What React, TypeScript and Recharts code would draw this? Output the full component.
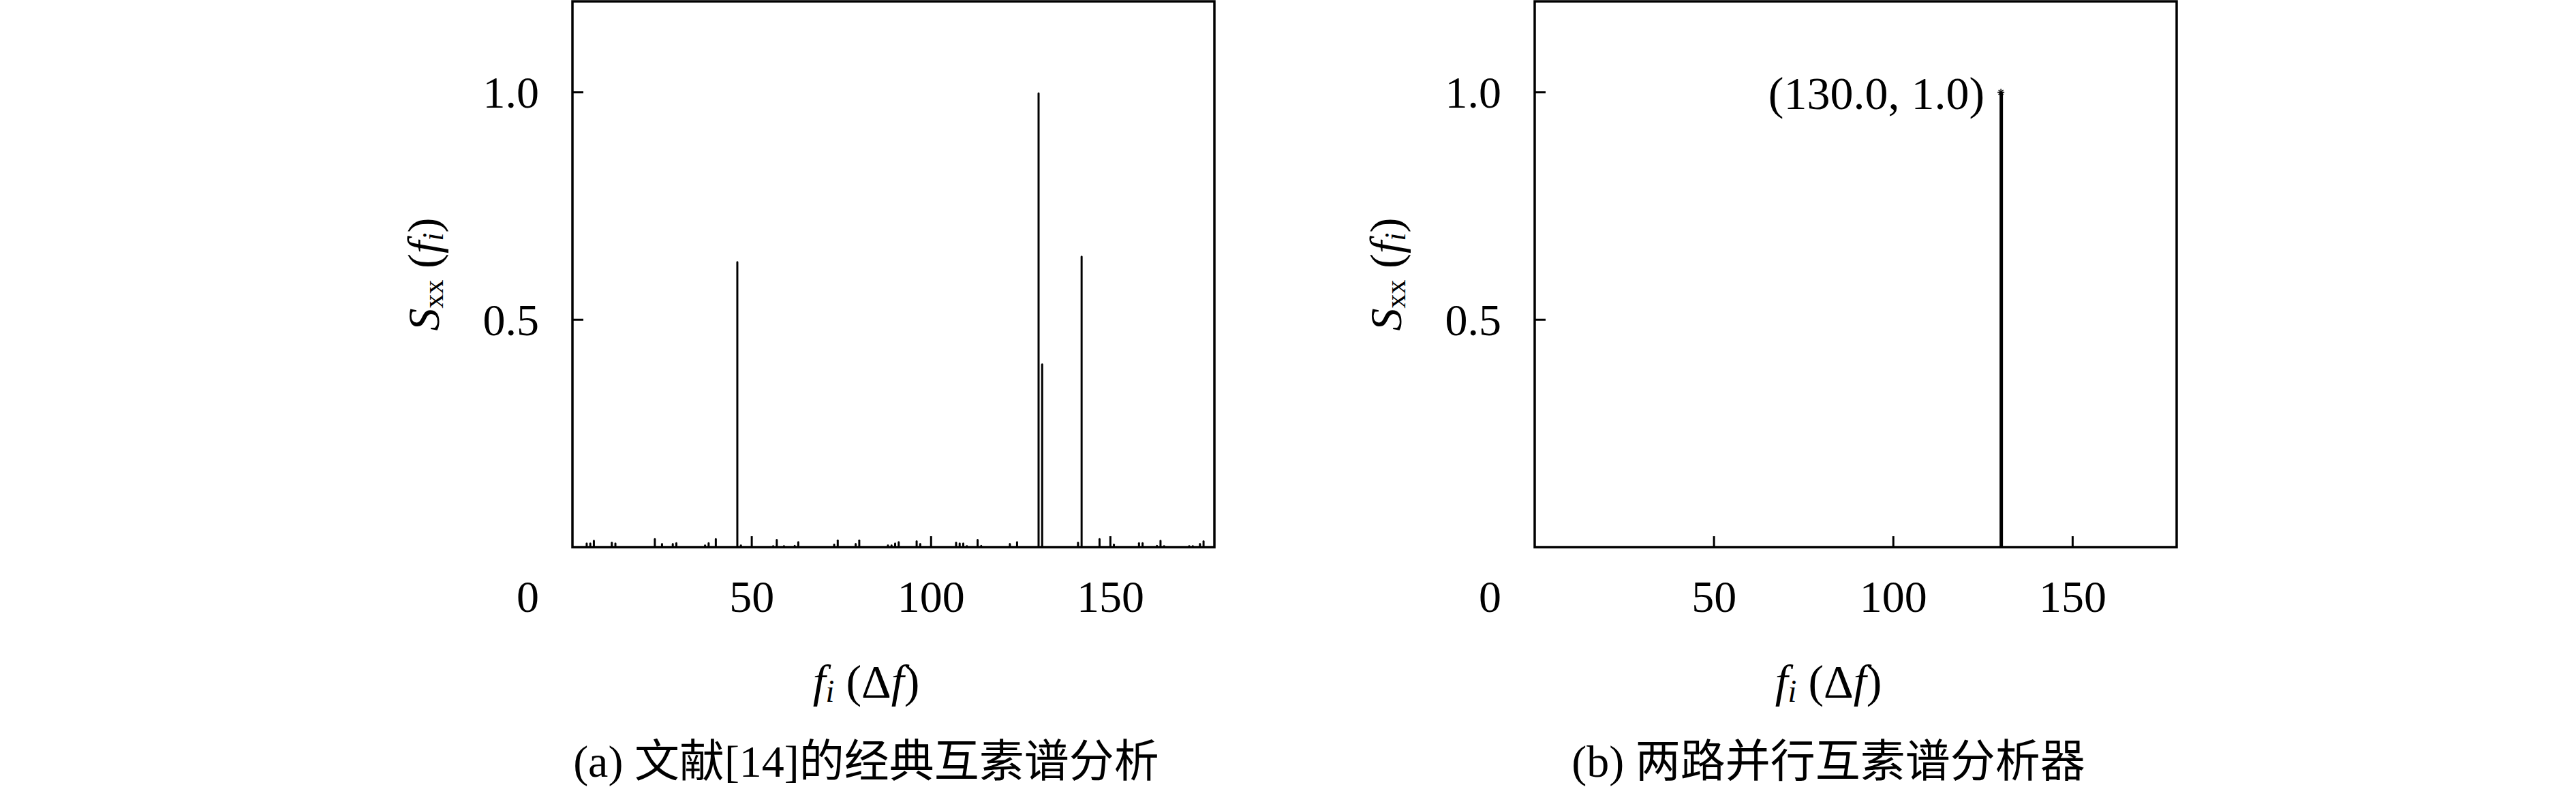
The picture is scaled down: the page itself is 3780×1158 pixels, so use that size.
import React from 'react';
import { ComposedChart, Bar, XAxis, YAxis, ReferenceArea, ReferenceDot } from 'recharts';

// axes shared by both panels
const X_MAX = 179;
const Y_MAX = 1.2;
const X_TICKS = [50, 100, 150];
const Y_TICKS = [0, 0.5, 1.0];

// (a) classic coprime spectrum from ref [14]: bin index and normalised S_xx
const classicBins = [
  4, 5, 6, 11, 12, 23, 25, 28, 29, 37, 38, 40, 46, 47, 56, 57, 59, 62, 63, 73,
  74, 79, 80, 88, 89, 90, 91, 96, 97, 107, 108, 109, 110, 113, 114, 122, 124,
  130, 131, 141, 142, 147, 151, 158, 159, 163, 164, 165, 172, 173, 175, 176,
];
const classicValues = [
  0.01, 0.01, 0.016, 0.012, 0.01, 0.02, 0.009, 0.009, 0.011, 0.006, 0.011, 0.02,
  0.629, 0.006, 0.004, 0.018, 0.004, 0.005, 0.013, 0.008, 0.017, 0.009, 0.017,
  0.006, 0.006, 0.01, 0.013, 0.015, 0.009, 0.012, 0.01, 0.01, 0.004, 0.018,
  0.005, 0.009, 0.013, 1.0, 0.404, 0.012, 0.641, 0.02, 0.008, 0.011, 0.011,
  0.005, 0.016, 0.004, 0.004, 0.004, 0.009, 0.015,
];

// (b) two-way parallel coprime analyser
const parallelBins = [130];
const parallelValues = [1.0];
const peakF = 130.0;
const peakS = 1.0;

const captionA = '(a) 文献[14]的经典互素谱分析';
const captionB = '(b) 两路并行互素谱分析器';

const SERIF = '"Liberation Serif", "Noto Sans CJK SC", serif';
const AXIS_W = 300;
const PLOT_W = 942;
const CHART_W = AXIS_W + PLOT_W + 20;
const CHART_H = 1158;

const toRows = (bins: number[], vals: number[]) => bins.map((f, i) => ({ f, s: vals[i] }));

function XTick({ x, y, payload }: any) {
  return (
    <g>
      <line x1={x} y1={y} x2={x} y2={y - 16} stroke="#000" strokeWidth={3} />
      <text x={x} y={y + 72} textAnchor="middle" dominantBaseline="central" fontSize={66} fontFamily={SERIF} fill="#000">
        {payload.value}
      </text>
    </g>
  );
}

function YTick({ x, y, payload }: any) {
  const v = payload.value;
  if (v === 0) {
    // origin label sits on the x tick row
    return (
      <text x={x - 49} y={y + 72} textAnchor="end" dominantBaseline="central" fontSize={66} fontFamily={SERIF} fill="#000">
        0
      </text>
    );
  }
  return (
    <g>
      <line x1={x} y1={y} x2={x + 16} y2={y} stroke="#000" strokeWidth={3} />
      <text x={x - 49} y={y} textAnchor="end" dominantBaseline="central" fontSize={66} fontFamily={SERIF} fill="#000">
        {v.toFixed(1)}
      </text>
    </g>
  );
}

function XTitle({ viewBox }: any) {
  const cx = viewBox.x + viewBox.width / 2 - 40;
  const cy = viewBox.y + 197;
  return (
    <text x={cx} y={cy} textAnchor="middle" dominantBaseline="central" fontSize={68} fontFamily={SERIF} fill="#000">
      <tspan fontStyle="italic">f</tspan>
      <tspan fontStyle="italic" fontSize={46} dy={14}>i</tspan>
      <tspan dy={-14}>{' (Δ'}</tspan>
      <tspan fontStyle="italic">f</tspan>
      <tspan>)</tspan>
    </text>
  );
}

function YTitle({ viewBox }: any) {
  const cx = viewBox.x + viewBox.width - 219;
  const cy = viewBox.y + viewBox.height / 2;
  return (
    <text
      x={cx}
      y={cy}
      transform={`rotate(-90 ${cx} ${cy})`}
      textAnchor="middle"
      dominantBaseline="central"
      fontSize={66}
      fontFamily={SERIF}
      fill="#000"
    >
      <tspan fontStyle="italic">S</tspan>
      <tspan fontSize={42} dy={15}>xx</tspan>
      <tspan dy={-15}>{' ('}</tspan>
      <tspan fontStyle="italic">f</tspan>
      <tspan fontStyle="italic" fontSize={44} dy={14}>i</tspan>
      <tspan dy={-14}>)</tspan>
    </text>
  );
}

function StarMark({ cx, cy }: any) {
  const r = 5;
  return (
    <g stroke="#000" strokeWidth={1.5}>
      <line x1={cx - r} y1={cy} x2={cx + r} y2={cy} />
      <line x1={cx} y1={cy - r} x2={cx} y2={cy + r} />
      <line x1={cx - r * 0.7} y1={cy - r * 0.7} x2={cx + r * 0.7} y2={cy + r * 0.7} />
      <line x1={cx - r * 0.7} y1={cy + r * 0.7} x2={cx + r * 0.7} y2={cy - r * 0.7} />
    </g>
  );
}

function SpectrumPanel({ plotLeft, data, barWidth, caption, showPeak }: any) {
  return (
    <div style={{ position: 'absolute', left: plotLeft - AXIS_W, top: 0, width: CHART_W, height: CHART_H }}>
      <ComposedChart width={CHART_W} height={CHART_H} data={data} margin={{ top: 2, right: 20, bottom: 0, left: 0 }}>
        <XAxis
          type="number"
          dataKey="f"
          domain={[0, X_MAX]}
          ticks={X_TICKS}
          interval={0}
          tick={<XTick />}
          tickSize={0}
          tickMargin={0}
          tickLine={false}
          axisLine={false}
          height={355}
          allowDataOverflow
          label={<XTitle />}
        />
        <YAxis
          type="number"
          domain={[0, Y_MAX]}
          ticks={Y_TICKS}
          interval={0}
          tick={<YTick />}
          tickSize={0}
          tickMargin={0}
          tickLine={false}
          axisLine={false}
          width={AXIS_W}
          allowDataOverflow
          label={<YTitle />}
        />
        <ReferenceArea x1={0} x2={X_MAX} y1={0} y2={Y_MAX} fill="#fff" fillOpacity={0} stroke="#000" strokeWidth={3.5} />
        <Bar
          dataKey="s"
          fill="#000"
          barSize={barWidth}
          radius={[barWidth / 2, barWidth / 2, 0, 0]}
          isAnimationActive={false}
        />
        {showPeak && (
          <ReferenceDot
            x={peakF}
            y={peakS}
            r={5}
            shape={<StarMark />}
            label={{
              value: `(${peakF.toFixed(1)}, ${peakS.toFixed(1)})`,
              position: 'left',
              offset: 19,
              fontSize: 68,
              fontFamily: SERIF,
              fill: '#000',
            }}
          />
        )}
      </ComposedChart>
      <div
        style={{
          position: 'absolute',
          left: AXIS_W + PLOT_W / 2 - 40 - 700,
          width: 1400,
          top: 1078,
          lineHeight: '80px',
          fontSize: 66,
          fontFamily: SERIF,
          textAlign: 'center',
          color: '#000',
          whiteSpace: 'nowrap',
        }}
      >
        {caption}
      </div>
    </div>
  );
}

export default function App() {
  return (
    <div style={{ position: 'absolute', left: 0, top: 0, width: 3780, height: 1158, background: '#fff', overflow: 'hidden' }}>
      <SpectrumPanel plotLeft={840} data={toRows(classicBins, classicValues)} barWidth={3} caption={captionA} />
      <SpectrumPanel plotLeft={2252} data={toRows(parallelBins, parallelValues)} barWidth={5} caption={captionB} showPeak />
    </div>
  );
}
